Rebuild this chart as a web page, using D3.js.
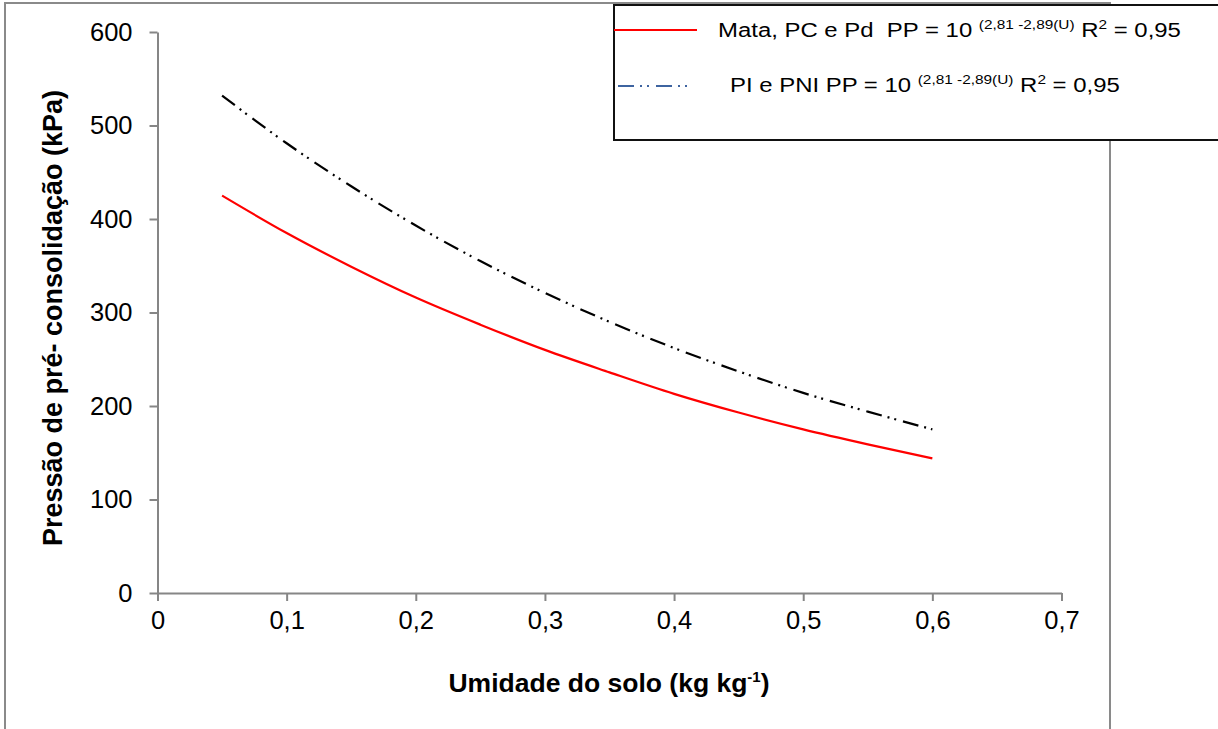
<!DOCTYPE html>
<html>
<head>
<meta charset="utf-8">
<script src="https://cdn.jsdelivr.net/npm/d3@7"></script>
<style>
  html, body { margin: 0; padding: 0; background: #fff; }
  svg { display: block; font-family: "Liberation Sans", Arial, sans-serif; }
  text { white-space: pre; }
</style>
</head>
<body>
<svg id="chart" width="1218" height="729"></svg>
<script>
// ---- data ----
const umidade = [0.05, 0.10, 0.15, 0.20, 0.25, 0.30, 0.35, 0.40, 0.45, 0.50, 0.55, 0.60];
const mataPCPd = [425, 385, 349, 316, 287, 260, 236, 213, 193, 175, 159, 144];
const piPNI    = [532, 481, 435, 393, 355, 321, 290, 262, 237, 214, 194, 175];
const xTickValues = [0, 0.1, 0.2, 0.3, 0.4, 0.5, 0.6, 0.7];
const xTickLabels = ["0", "0,1", "0,2", "0,3", "0,4", "0,5", "0,6", "0,7"];
const yTickValues = [0, 100, 200, 300, 400, 500, 600];
const yTickLabels = ["0", "100", "200", "300", "400", "500", "600"];
const seriesNames = ["Mata, PC e Pd  PP = 10", "PI e PNI PP = 10"];

const svg = d3.select("#chart");
const axisColor = "#868686";

// outer chart-area border
svg.append("rect").attr("x", 5).attr("y", 3).attr("width", 1105).attr("height", 800)
  .attr("fill", "none").attr("stroke", "#8a8a8a").attr("stroke-width", 2);

const x = d3.scaleLinear().domain([0, 0.7]).range([157.5, 1061.5]);
const y = d3.scaleLinear().domain([0, 600]).range([593, 32]);

// axes
const xAxis = d3.axisBottom(x).tickValues(xTickValues)
  .tickFormat((d, i) => xTickLabels[i]).tickSize(8).tickSizeOuter(0).tickPadding(9);
const yAxis = d3.axisLeft(y).tickValues(yTickValues)
  .tickFormat((d, i) => yTickLabels[i]).tickSize(8).tickSizeOuter(0).tickPadding(17);

const gx = svg.append("g").attr("transform", `translate(0,${y(0)})`).call(xAxis);
const gy = svg.append("g").attr("transform", `translate(${x(0)},0)`).call(yAxis);
[gx, gy].forEach(g => {
  g.select(".domain").attr("stroke", axisColor).attr("stroke-width", 2);
  g.selectAll(".tick line").attr("stroke", axisColor).attr("stroke-width", 2);
  g.selectAll(".tick text").attr("fill", "#000").attr("font-size", 25.5)
    .attr("font-family", "'Liberation Sans', Arial, sans-serif");
});
gx.selectAll(".tick text").attr("dy", "0.75em");

// lines
const line = d3.line().x(d => x(d[0])).y(d => y(d[1])).curve(d3.curveMonotoneX);
svg.append("path").datum(umidade.map((u, i) => [u, piPNI[i]]))
  .attr("d", line).attr("fill", "none").attr("stroke", "#000").attr("stroke-width", 2.2)
  .attr("stroke-dasharray", "16,6,2,5,2,7");
svg.append("path").datum(umidade.map((u, i) => [u, mataPCPd[i]]))
  .attr("d", line).attr("fill", "none").attr("stroke", "#ff0000").attr("stroke-width", 2.2);

// axis titles
const xt = svg.append("text").attr("x", 609).attr("y", 692).attr("text-anchor", "middle")
  .attr("font-size", 26.5).attr("font-weight", "bold");
xt.append("tspan").text("Umidade do solo (kg kg");
xt.append("tspan").attr("font-size", 15).attr("dy", -10).text("-1");
xt.append("tspan").attr("dy", 10).text(")");

svg.append("text").attr("transform", "translate(62,318) rotate(-90)")
  .attr("text-anchor", "middle").attr("font-size", 27).attr("font-weight", "bold")
  .text("Pressão de pré- consolidação (kPa)");

// legend
svg.append("rect").attr("x", 614).attr("y", 5).attr("width", 700).attr("height", 135)
  .attr("fill", "#fff").attr("stroke", "#111").attr("stroke-width", 2);

const legendRows = [
  { name: seriesNames[0], lx1: 614, lx2: 697, ly: 30, tx: 718, ty: 37, stroke: "#ff0000", dash: null },
  { name: seriesNames[1], lx1: 618, lx2: 688, ly: 86, tx: 730, ty: 92, stroke: "#3e64a0", dash: "16,6,2,5,2,7" }
];
legendRows.forEach(r => {
  const l = svg.append("line").attr("x1", r.lx1).attr("x2", r.lx2).attr("y1", r.ly).attr("y2", r.ly)
    .attr("stroke", r.stroke).attr("stroke-width", 2.2);
  if (r.dash) l.attr("stroke-dasharray", r.dash);
  const t = svg.append("text").attr("transform", `translate(${r.tx},${r.ty}) scale(1.14,1)`)
    .attr("font-size", 21).attr("fill", "#000");
  t.append("tspan").text(r.name + " ");
  t.append("tspan").attr("font-size", 13.5).attr("dy", -8).text("(2,81 -2,89(U)");
  t.append("tspan").attr("dy", 8).text(" R");
  t.append("tspan").attr("font-size", 13.5).attr("dy", -8).text("2");
  t.append("tspan").attr("dy", 8).text(" = 0,95");
});
</script>
</body>
</html>
